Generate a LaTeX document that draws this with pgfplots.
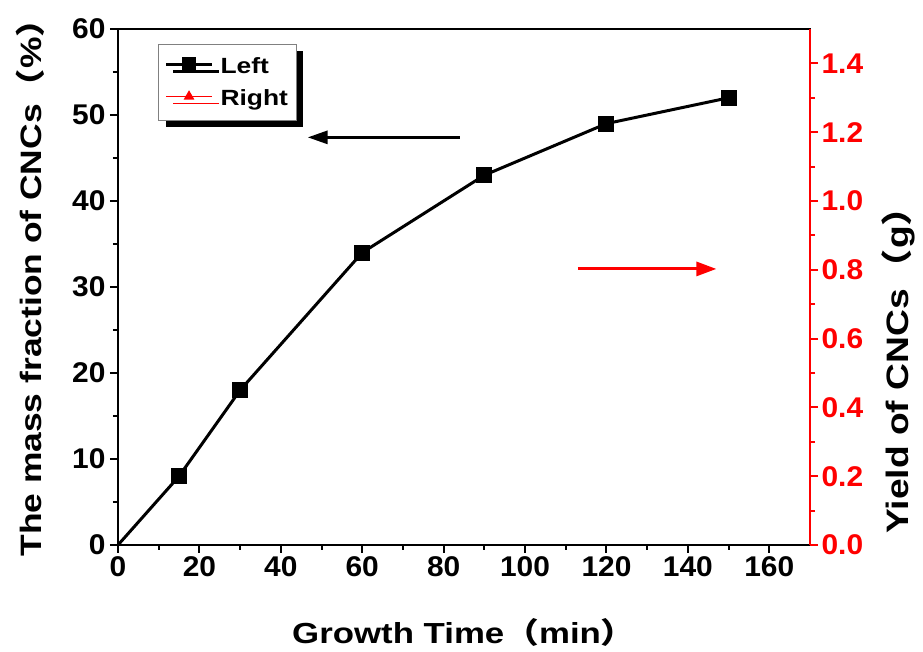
\documentclass[border=0pt]{standalone}
\usepackage{fontspec}
\setmainfont{Liberation Sans}[FakeStretch=1.2]
\newfontfamily\tickfont{Liberation Sans}[FakeStretch=1.05]
\newfontfamily\cjk{Noto Sans CJK SC}[FakeStretch=1.2]
\usepackage{pgfplots}
\pgfplotsset{compat=1.18}
\usetikzlibrary{arrows.meta,shadows}
\definecolor{myred}{RGB}{255,0,0}

\begin{document}
\begin{tikzpicture}
\useasboundingbox (-118pt,-107pt) rectangle (805pt,545pt);
\begin{axis}[
  scale only axis, width=692pt, height=516pt,
  xmin=0, xmax=170, ymin=0, ymax=60,
  xtick={0,20,...,160}, ytick={0,10,...,60},
  minor x tick num=1, minor y tick num=1,
  xtick pos=left, ytick pos=left,
  tick align=outside,
  major tick length=8pt, minor tick length=5pt,
  tick style={black, line width=2pt},
  axis line style={line width=2.5pt},
  /pgf/number format/assume math mode=true,
  tick label style={font=\tickfont\fontsize{28.5}{28.5}\selectfont\bfseries},
  yticklabel style={xshift=-1pt},
  label style={font=\fontsize{29.5}{30}\selectfont\bfseries},
  xlabel={Growth Time{\cjk（}min{\cjk）}},
  ylabel={The mass fraction of CNCs{\cjk（}\%{\cjk）}},
  xlabel style={at={(axis description cs:0.5,-0.17)}, anchor=center, font=\fontsize{29}{29}\selectfont\bfseries},
  ylabel style={at={(axis description cs:-0.127,0.515)}, anchor=center},
  legend style={at={(0.058,0.971)}, anchor=north west, draw=gray, line width=0.8pt,
    font=\fontsize{22}{24}\selectfont\bfseries,
    drop shadow={shadow xshift=7pt, shadow yshift=-7pt, fill=black, opacity=1},
    inner xsep=6pt, inner ysep=11pt, row sep=11pt, /tikz/column sep=5pt},
  legend cell align=left,
  legend image code/.code={\draw[#1, mark repeat=2, mark phase=2, yshift=2pt] plot coordinates {(0pt,0pt) (23pt,0pt) (46pt,0pt)};},
]
\addlegendimage{black, line width=3pt, mark=square*, mark size=5.5pt}
\addlegendentry{Left}
\addlegendimage{myred, line width=1.8pt, mark=triangle*, mark size=4.5pt}
\addlegendentry{Right}
\addplot[black, line width=3pt, mark=square*, mark size=6.5pt, mark indices={2,3,4,5,6,7}, forget plot] coordinates {(0,0)(15,8)(30,18)(60,34)(90,43)(120,49)(150,52)};
\draw[black, line width=3pt, -{Triangle[length=20pt,width=13pt]}] (axis cs:84,47.4) -- (axis cs:46.6,47.4);
\draw[myred, line width=3pt, -{Triangle[length=20pt,width=14pt]}] (axis cs:113,32.1) -- (axis cs:147,32.1);
\end{axis}
\begin{axis}[
  scale only axis, width=692pt, height=516pt,
  xmin=0, xmax=170, ymin=0, ymax=1.5,
  hide x axis, axis y line*=right,
  ytick={0,0.2,0.4,0.6,0.8,1.0,1.2,1.4}, minor y tick num=1,
  tick align=outside,
  major tick length=8pt, minor tick length=5pt,
  tick style={myred, line width=2pt},
  y axis line style={myred, line width=2.5pt},
  /pgf/number format/assume math mode=true,
  yticklabel style={myred, font=\tickfont\fontsize{28.5}{28.5}\selectfont\bfseries, /pgf/number format/.cd, fixed, fixed zerofill, precision=1},
  label style={font=\fontsize{31}{31}\selectfont\bfseries},
  ylabel={Yield of CNCs\hspace{3pt}{\cjk（}g{\cjk）}},
  ylabel style={at={(axis description cs:1.128,0.356)}, anchor=center, black},
]
\addplot[draw=none, forget plot] coordinates {(0,0)};
\end{axis}
\end{tikzpicture}
\end{document}
